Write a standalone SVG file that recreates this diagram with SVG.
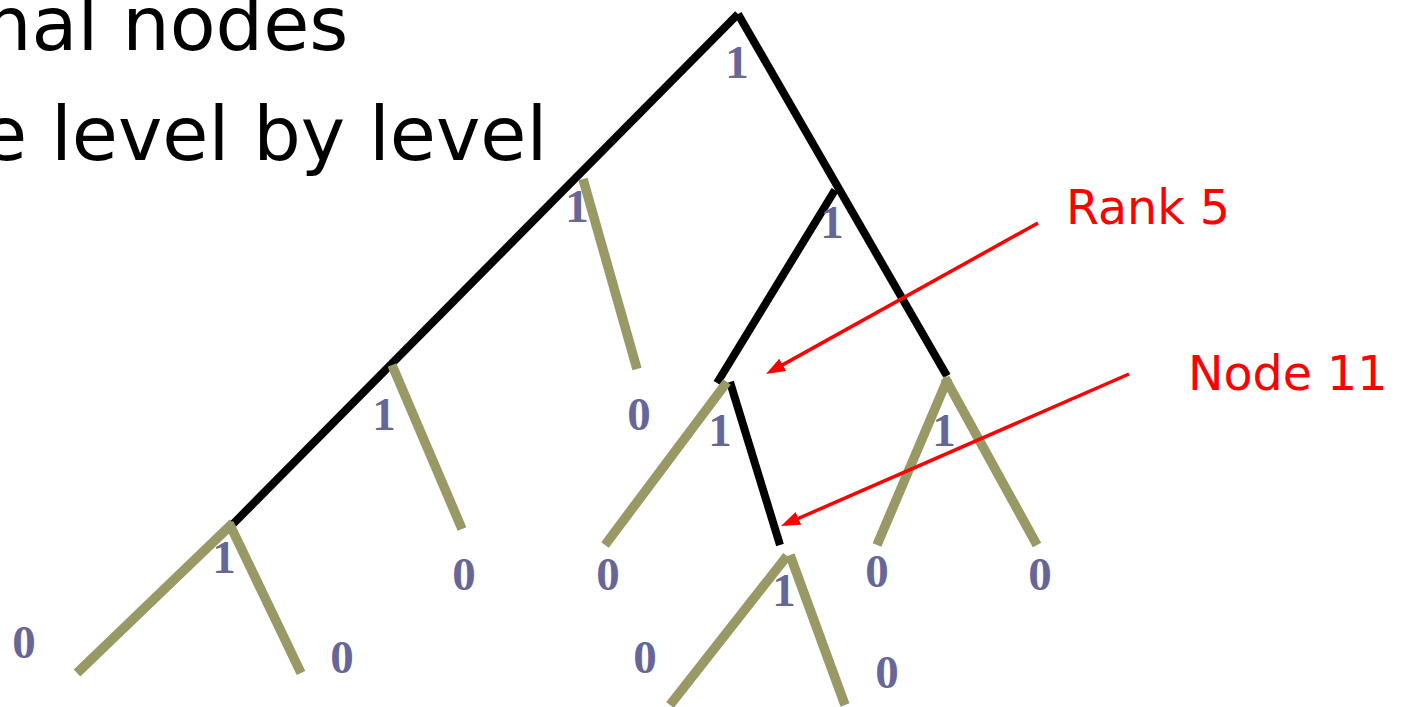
<svg xmlns="http://www.w3.org/2000/svg" width="1402" height="707" viewBox="0 0 1402 707">
<style>
.title{font-family:"DejaVu Sans",Verdana,sans-serif;font-size:75px;fill:#000}
.ann{font-family:"DejaVu Sans",Verdana,sans-serif;font-size:47.5px;fill:#FF0000}
.lbl{font-family:"Liberation Serif","Times New Roman",serif;font-weight:bold;font-size:47px;fill:#666699;text-anchor:middle}
.blk{stroke:#000;stroke-width:8;fill:none}
.olv{stroke:#999966;stroke-width:9.5;fill:none}
.red{stroke:#FF0000;stroke-width:3.5;fill:none}
</style>
<defs>
<marker id="ah" markerUnits="userSpaceOnUse" markerWidth="20" markerHeight="16" refX="14" refY="7" orient="auto">
<path d="M0,0 L19,7 L0,14 z" fill="#FF0000"/>
</marker>
</defs>
<rect width="1402" height="707" fill="#fff"/>
<g id="title">
<text class="title" x="-16" y="50">nal nodes</text>
<text class="title" x="-19" y="160">e level by level</text>
</g>
<g id="connectors">
<line class="blk" x1="738" y1="14" x2="232" y2="525"/>
<line class="blk" x1="738" y1="14" x2="947" y2="376"/>
<line class="blk" x1="835" y1="190" x2="717" y2="383"/>
<line class="blk" x1="730" y1="382" x2="780" y2="545"/>
<line class="olv" x1="583" y1="179" x2="637" y2="369"/>
<line class="olv" x1="392" y1="365" x2="462" y2="529"/>
<line class="olv" x1="233" y1="523" x2="77" y2="673"/>
<line class="olv" x1="229" y1="523" x2="301" y2="673"/>
<line class="olv" x1="727" y1="382" x2="605" y2="545"/>
<line class="olv" x1="948" y1="378" x2="877" y2="545"/>
<line class="olv" x1="945" y1="378" x2="1037" y2="545"/>
<line class="olv" x1="787" y1="556" x2="670" y2="705"/>
<line class="olv" x1="790" y1="555" x2="845" y2="705"/>
<line class="red" x1="1038" y1="223" x2="770.4" y2="371.6" marker-end="url(#ah)"/>
<line class="red" x1="1129" y1="374" x2="785.6" y2="524" marker-end="url(#ah)"/>
</g>
<g id="n1"><text class="lbl" x="737" y="78">1</text></g>
<g id="n2"><text class="lbl" x="577" y="222">1</text></g>
<g id="n3"><text class="lbl" x="832" y="238">1</text></g>
<g id="n4"><text class="lbl" x="384" y="430">1</text></g>
<g id="n5"><text class="lbl" x="639" y="430">0</text></g>
<g id="n6"><text class="lbl" x="720" y="446">1</text></g>
<g id="n7"><text class="lbl" x="944" y="446">1</text></g>
<g id="n8"><text class="lbl" x="224" y="573">1</text></g>
<g id="n9"><text class="lbl" x="464" y="590">0</text></g>
<g id="n10"><text class="lbl" x="608" y="590">0</text></g>
<g id="n11"><text class="lbl" x="784" y="606">1</text></g>
<g id="n12"><text class="lbl" x="877" y="587">0</text></g>
<g id="n13"><text class="lbl" x="1040" y="590">0</text></g>
<g id="n14"><text class="lbl" x="24" y="658">0</text></g>
<g id="n15"><text class="lbl" x="342" y="673">0</text></g>
<g id="n16"><text class="lbl" x="645" y="673">0</text></g>
<g id="n17"><text class="lbl" x="887" y="688">0</text></g>
<g id="annotations">
<text class="ann" x="1066" y="224">Rank 5</text>
<text class="ann" x="1188" y="390">Node 11</text>
</g>
</svg>
